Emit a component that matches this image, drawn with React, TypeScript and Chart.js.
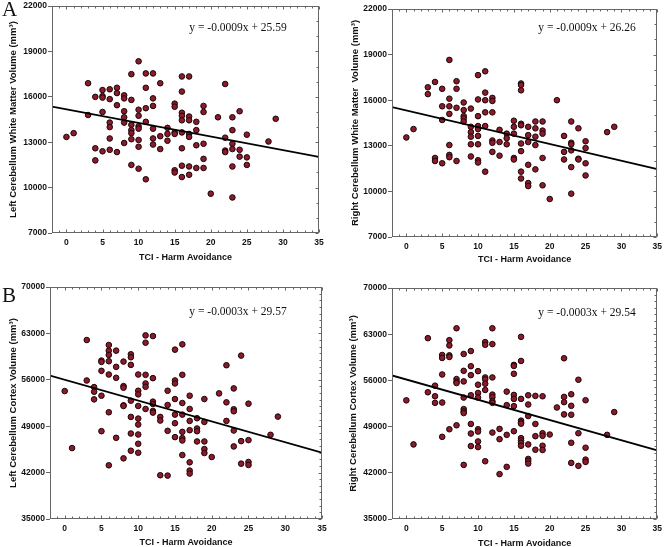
import React, { useEffect, useRef } from "react";
import { Chart, registerables } from "chart.js";

Chart.register(...registerables);

type Pt = [number, number];

// x: TCI - Harm Avoidance score, y: volume (mm³)
const leftWhiteMatter: Pt[] = [
  [0, 13350], [1, 13600], [3, 16900], [3, 14800], [4, 16000], [4, 12600], [4, 11800],
  [5, 16450], [5, 16050], [5, 15950], [5, 15000], [5, 12400],
  [6, 16500], [6, 15850], [6, 14300], [6, 14000], [6, 13250], [6, 12500],
  [7, 16600], [7, 16250], [7, 15450], [7, 12350],
  [8, 16100], [8, 15900], [8, 15050], [8, 14650], [8, 14300], [8, 12950],
  [9, 17500], [9, 15800], [9, 14150], [9, 13800], [9, 13600], [9, 13200], [9, 11500],
  [10, 18350], [10, 15150], [10, 14750], [10, 14050], [10, 13900], [10, 13150], [10, 12700], [10, 11250],
  [11, 17550], [11, 16600], [11, 15250], [11, 14350], [11, 10550],
  [12, 17550], [12, 15900], [12, 15400], [12, 13900], [12, 13250], [12, 12850],
  [13, 16900], [13, 13400], [13, 12550],
  [14, 13950], [14, 13550], [14, 13100],
  [15, 15550], [15, 15350], [15, 13650], [15, 13550], [15, 11150], [15, 11000],
  [16, 17350], [16, 16350], [16, 14950], [16, 14750], [16, 14450], [16, 13650], [16, 12600], [16, 11450], [16, 10700],
  [17, 17350], [17, 14700], [17, 14450], [17, 13550], [17, 13350], [17, 11400], [17, 10850],
  [18, 14350], [18, 13800], [18, 12800], [18, 11300],
  [19, 15400], [19, 15000], [19, 12900], [19, 11900], [19, 11300],
  [20, 9600], [21, 14650],
  [22, 16850], [22, 13300], [22, 12450], [22, 12350],
  [23, 14650], [23, 13800], [23, 12900], [23, 12550], [23, 11400], [23, 9350],
  [24, 15050], [24, 12500], [24, 12050],
  [25, 13500], [25, 12000], [25, 11500],
  [28, 13050], [29, 14550],
];

const rightWhiteMatter: Pt[] = [
  [0, 13550], [1, 14100], [3, 16850], [3, 16400], [4, 17200], [4, 12200], [4, 12000],
  [5, 16750], [5, 15600], [5, 14700], [5, 11850],
  [6, 18650], [6, 16100], [6, 15600], [6, 15100], [6, 13050], [6, 12400], [6, 12250],
  [7, 17250], [7, 16750], [7, 15500], [7, 12000],
  [8, 15850], [8, 15350], [8, 14950], [8, 14800], [8, 14600],
  [9, 15450], [9, 14250], [9, 13900], [9, 13600], [9, 13100], [9, 12300],
  [10, 17650], [10, 16050], [10, 14950], [10, 14300], [10, 14100], [10, 13650], [10, 13100], [10, 12050], [10, 11900],
  [11, 17900], [11, 16500], [11, 16000], [11, 15200], [11, 14300], [11, 11300],
  [12, 16150], [12, 15950], [12, 15200], [12, 13350], [12, 13200], [12, 12600],
  [13, 14050], [13, 13250], [13, 12350],
  [14, 13800], [14, 13500], [14, 13100],
  [15, 14650], [15, 14250], [15, 13800], [15, 12200], [15, 12100],
  [16, 17100], [16, 17000], [16, 16650], [16, 14450], [16, 14350], [16, 13150], [16, 12650], [16, 11300], [16, 10850],
  [17, 14250], [17, 13700], [17, 13250], [17, 11750], [17, 10550], [17, 10350],
  [18, 14600], [18, 14150], [18, 13600], [18, 13050], [18, 11450],
  [19, 14600], [19, 14000], [19, 13800], [19, 12200], [19, 10400],
  [20, 9500], [21, 16000],
  [22, 13650], [22, 12600], [22, 12100],
  [23, 14600], [23, 13200], [23, 13100], [23, 12700], [23, 11600], [23, 9850],
  [24, 14150], [24, 12150], [24, 12100],
  [25, 13300], [25, 12850], [25, 11850], [25, 11050],
  [28, 13900], [29, 14250],
];

const leftCortex: Pt[] = [
  [0, 54300], [1, 45700], [3, 62000], [3, 55900], [4, 54900], [4, 54200], [4, 53050],
  [5, 58900], [5, 58700], [5, 57350], [5, 53600], [5, 48250],
  [6, 61250], [6, 60400], [6, 59750], [6, 58800], [6, 56800], [6, 51100], [6, 43100],
  [7, 60400], [7, 57950], [7, 56300], [7, 47250],
  [8, 58750], [8, 55050], [8, 54800], [8, 52150], [8, 52050], [8, 44150],
  [9, 59850], [9, 59400], [9, 58250], [9, 52850], [9, 50400], [9, 47900], [9, 45300],
  [10, 56800], [10, 54350], [10, 53800], [10, 52050], [10, 50150], [10, 49250], [10, 47750], [10, 46350], [10, 45000],
  [11, 62700], [11, 61600], [11, 56750], [11, 55450], [11, 54950], [11, 51600],
  [12, 62600], [12, 56250], [12, 52700], [12, 52350], [12, 51300], [12, 51050],
  [13, 50400], [13, 49850], [13, 41600],
  [14, 54350], [14, 52200], [14, 48300], [14, 41550],
  [15, 60550], [15, 55900], [15, 55450], [15, 53100], [15, 50750], [15, 49450], [15, 47350],
  [16, 61350], [16, 56750], [16, 52500], [16, 50750], [16, 48150], [16, 47200], [16, 46850], [16, 44650],
  [17, 53600], [17, 51600], [17, 49800], [17, 48400], [17, 43550], [17, 42300], [17, 41850],
  [18, 50200], [18, 48650], [18, 48250], [18, 46700],
  [19, 53100], [19, 49650], [19, 46700], [19, 45550], [19, 44950],
  [20, 44350], [21, 53950],
  [22, 58200], [22, 52600], [22, 49800],
  [23, 54700], [23, 51550], [23, 51250], [23, 48350], [23, 45950],
  [24, 59650], [24, 46750], [24, 43350],
  [25, 52400], [25, 46900], [25, 43600], [25, 43150],
  [28, 47700], [29, 50450],
];

const rightCortex: Pt[] = [
  [0, 52980], [1, 46300], [3, 62400], [3, 54200], [4, 55200], [4, 53600], [4, 52600],
  [5, 59850], [5, 59400], [5, 56900], [5, 52650], [5, 47450],
  [6, 62100], [6, 61300], [6, 59800], [6, 59550], [6, 48600],
  [7, 63900], [7, 56200], [7, 55800], [7, 55600], [7, 49200],
  [8, 60000], [8, 57450], [8, 55850], [8, 53400], [8, 51650], [8, 51300], [8, 51050], [8, 43200],
  [9, 60450], [9, 58150], [9, 56800], [9, 53750], [9, 49400], [9, 47950], [9, 46050],
  [10, 57400], [10, 55350], [10, 54100], [10, 53400], [10, 48600], [10, 48250], [10, 46750], [10, 45900],
  [11, 61800], [11, 61400], [11, 56450], [11, 56150], [11, 55500], [11, 54550], [11, 43750],
  [12, 63900], [12, 61500], [12, 56450], [12, 53850], [12, 53450], [12, 52850], [12, 52600], [12, 48100],
  [13, 48650], [13, 47100], [13, 41800],
  [14, 54300], [14, 52250], [14, 47750], [14, 42900],
  [15, 58350], [15, 58200], [15, 57000], [15, 53800], [15, 53200], [15, 52100], [15, 48300],
  [16, 62600], [16, 58950], [16, 53200], [16, 49900], [16, 49650], [16, 49450], [16, 47250], [16, 46900], [16, 46550], [16, 46100],
  [17, 53750], [17, 52350], [17, 50600], [17, 46300], [17, 44100], [17, 43800], [17, 43400],
  [18, 53650], [18, 49400], [18, 47550], [18, 45500],
  [19, 53600], [19, 48000], [19, 47600], [19, 46100], [19, 45450],
  [20, 47800], [21, 51900],
  [22, 59350], [22, 53500], [22, 52700], [22, 50850],
  [23, 53900], [23, 52150], [23, 50800], [23, 46550], [23, 43500],
  [24, 56100], [24, 48000], [24, 43050],
  [25, 53000], [25, 45800], [25, 44000], [25, 43650],
  [28, 47750], [29, 51200],
];

// regression lines, evaluated at the x-axis limits
const fitX = [-2, 35];
const leftWhiteMatterFit = [15360, 12030];
const rightWhiteMatterFit = [15540, 11465];
const leftCortexFit = [56650, 45000];
const rightCortexFit = [56750, 45400];

const xTicks = [0, 5, 10, 15, 20, 25, 30, 35];
const whiteMatterTicks = [7000, 10000, 13000, 16000, 19000, 22000];
const cortexTicks = [35000, 42000, 49000, 56000, 63000, 70000];

const xTitle = "TCI - Harm Avoidance";
const equations = [
  "y = -0.0009x + 25.59",
  "y = -0.0009x + 26.26",
  "y = -0.0003x + 29.57",
  "y = -0.0003x + 29.54",
];

const SANS = '"Liberation Sans", Arial, sans-serif';
const SERIF = '"Liberation Serif", "Times New Roman", serif';

type PanelCfg = {
  points: Pt[];
  fit: number[];
  yTicks: number[];
  yTitle: string;
  equation: string;
  left: number;
  top: number;
  w: number;
  h: number;
  yw: number;
  padTop: number;
  padRight: number;
  xh: number;
  xTitleDy: number;
  yTitleX: number;
  eqX: number;
  eqY: number;
};

function Panel({ cfg }: { cfg: PanelCfg }) {
  const ref = useRef<HTMLCanvasElement>(null);
  useEffect(() => {
    const yMin = cfg.yTicks[0];
    const yMax = cfg.yTicks[cfg.yTicks.length - 1];
    const yStep = cfg.yTicks[1] - cfg.yTicks[0];
    const framePlugin = {
      id: "frame",
      afterDraw(chart: any) {
        const { ctx, chartArea: a, scales } = chart;
        const xs = scales.x;
        const ys = scales.y;
        ctx.save();
        ctx.strokeStyle = "#666";
        ctx.lineWidth = 1;
        const L = Math.round(a.left) + 0.5;
        const R = Math.round(a.right) - 0.5;
        const T = Math.round(a.top) + 0.5;
        const B = Math.round(a.bottom) - 0.5;
        ctx.strokeRect(L, T, R - L, B - T);
        ctx.beginPath();
        for (let v = -2; v <= 35; v++) {
          const px = Math.round(xs.getPixelForValue(v)) + 0.5;
          const len = v % 5 === 0 ? 3 : 2;
          ctx.moveTo(px, B);
          ctx.lineTo(px, B - len);
          ctx.moveTo(px, T);
          ctx.lineTo(px, T + len);
        }
        for (let v = yMin; v <= yMax; v += 1000) {
          const py = Math.round(ys.getPixelForValue(v)) + 0.5;
          const len = (v - yMin) % yStep === 0 ? 3 : 2;
          ctx.moveTo(R, py);
          ctx.lineTo(R - len, py);
        }
        ctx.stroke();
        // axis titles
        ctx.fillStyle = "#111";
        ctx.textAlign = "center";
        ctx.textBaseline = "middle";
        ctx.font = `bold 9px ${SANS}`;
        ctx.fillText(xTitle, (a.left + a.right) / 2, a.bottom + cfg.xTitleDy);
        ctx.font = `bold 9.5px ${SANS}`;
        ctx.translate(cfg.yTitleX, (a.top + a.bottom) / 2);
        ctx.rotate(-Math.PI / 2);
        ctx.fillText(cfg.yTitle, 0, 0);
        ctx.restore();
      },
    };
    const tickFont = { family: SANS, size: 8.5, weight: "bold" as const };
    const chart = new Chart(ref.current!, {
      type: "scatter",
      data: {
        datasets: [
          {
            type: "line",
            data: fitX.map((x, i) => ({ x, y: cfg.fit[i] })),
            borderColor: "#000",
            borderWidth: 1.8,
            pointRadius: 0,
            fill: false,
            order: 0,
          } as any,
          {
            type: "scatter",
            data: cfg.points.map(([x, y]) => ({ x, y })),
            pointRadius: 2.8,
            pointBackgroundColor: "#8a1a2c",
            pointBorderColor: "#1c0606",
            pointBorderWidth: 1,
            order: 1,
          },
        ],
      },
      options: {
        animation: false,
        responsive: false,
        events: [],
        layout: { padding: { left: 0, top: cfg.padTop, right: cfg.padRight, bottom: 0 } },
        plugins: { legend: { display: false }, tooltip: { enabled: false } },
        scales: {
          x: {
            type: "linear",
            min: -2,
            max: 35,
            afterBuildTicks: (s: any) => {
              s.ticks = xTicks.map((v) => ({ value: v }));
            },
            afterFit: (s: any) => {
              s.height = cfg.xh;
            },
            grid: { display: false, drawTicks: false },
            border: { display: false },
            ticks: {
              padding: 5, font: tickFont, color: "#111", maxRotation: 0, autoSkip: false,
              callback: (v: any) => String(v),
            },
          },
          y: {
            type: "linear",
            min: yMin,
            max: yMax,
            afterBuildTicks: (s: any) => {
              s.ticks = cfg.yTicks.map((v) => ({ value: v }));
            },
            afterFit: (s: any) => {
              s.width = cfg.yw;
            },
            grid: { drawOnChartArea: false, drawTicks: true, tickLength: 4, color: "#666" },
            border: { display: false },
            ticks: {
              padding: 1, font: tickFont, color: "#111", autoSkip: false,
              callback: (v: any) => String(v),
            },
          },
        },
      },
      plugins: [framePlugin],
    });
    return () => chart.destroy();
  }, [cfg]);
  return (
    <>
      <canvas
        ref={ref}
        width={cfg.w}
        height={cfg.h}
        style={{ position: "absolute", left: cfg.left, top: cfg.top, width: cfg.w, height: cfg.h }}
      />
      <div
        style={{
          position: "absolute",
          left: cfg.eqX - 80,
          top: cfg.eqY - 8,
          width: 160,
          textAlign: "center",
          font: `11.5px ${SERIF}`,
          lineHeight: "16px",
          color: "#111",
          whiteSpace: "nowrap",
        }}
      >
        {cfg.equation}
      </div>
    </>
  );
}

const panels: PanelCfg[] = [
  {
    points: leftWhiteMatter, fit: leftWhiteMatterFit, yTicks: whiteMatterTicks,
    yTitle: "Left Cerebellum White Matter Volume (mm³)", equation: equations[0],
    left: 0, top: 0, w: 333, h: 270, yw: 52, padTop: 6, padRight: 14, xh: 37,
    xTitleDy: 25, yTitleX: 13, eqX: 238, eqY: 27,
  },
  {
    points: rightWhiteMatter, fit: rightWhiteMatterFit, yTicks: whiteMatterTicks,
    yTitle: "Right Cerebellum White Matter  Volume (mm³)", equation: equations[1],
    left: 333, top: 0, w: 334, h: 270, yw: 59, padTop: 9, padRight: 7, xh: 33,
    xTitleDy: 23, yTitleX: 22, eqX: 587, eqY: 27,
  },
  {
    points: leftCortex, fit: leftCortexFit, yTicks: cortexTicks,
    yTitle: "Left Cerebellum Cortex Volume (mm³)", equation: equations[2],
    left: 0, top: 270, w: 333, h: 277, yw: 50, padTop: 17, padRight: 11, xh: 28,
    xTitleDy: 24, yTitleX: 13, eqX: 238, eqY: 311,
  },
  {
    points: rightCortex, fit: rightCortexFit, yTicks: cortexTicks,
    yTitle: "Right Cerebellum Cortex Volume (mm³)", equation: equations[3],
    left: 333, top: 270, w: 334, h: 277, yw: 59, padTop: 18, padRight: 5, xh: 28,
    xTitleDy: 25, yTitleX: 20, eqX: 587, eqY: 312,
  },
];

const panelLetters = ["A", "B"];

export default function App() {
  return (
    <div style={{ position: "absolute", left: 0, top: 0, width: 667, height: 547, background: "#fff", overflow: "hidden" }}>
      {panels.map((p, i) => (
        <Panel key={i} cfg={p} />
      ))}
      <div style={{ position: "absolute", left: 2, top: -3, font: `21px ${SERIF}`, color: "#111" }}>{panelLetters[0]}</div>
      <div style={{ position: "absolute", left: 2, top: 283, font: `21px ${SERIF}`, color: "#111" }}>{panelLetters[1]}</div>
    </div>
  );
}
